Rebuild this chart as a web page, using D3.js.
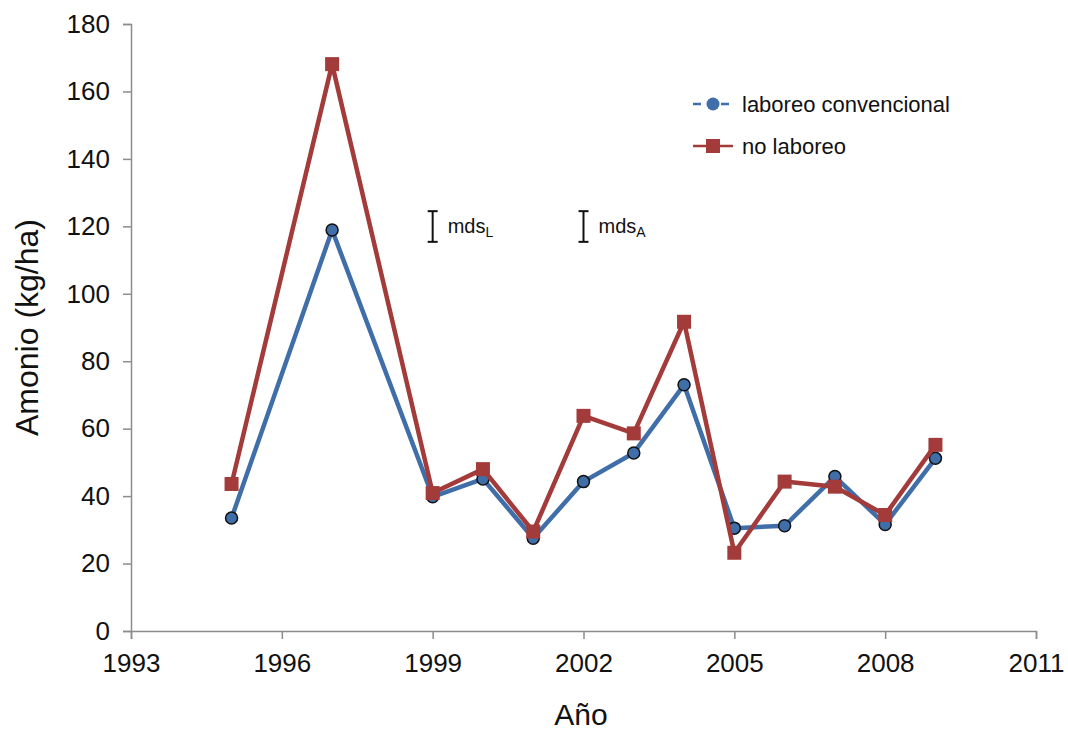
<!DOCTYPE html>
<html>
<head>
<meta charset="utf-8">
<script src="https://cdn.jsdelivr.net/npm/d3@7"></script>
<style>
  body { margin: 0; background: #fff; }
  svg { font-family: "Liberation Sans", Arial, sans-serif; }
  .axis path, .axis line { stroke: #8c8c8c; stroke-width: 1.5px; }
  .axis text { fill: #111; font-size: 26px; }
</style>
</head>
<body>
<svg width="1068" height="731"></svg>
<script>
// data
var years = [1995, 1997, 1999, 2000, 2001, 2002, 2003, 2004, 2005, 2006, 2007, 2008, 2009];
var convencional = [33.5, 118.9, 39.8, 45.1, 27.5, 44.3, 52.8, 73.0, 30.5, 31.2, 45.8, 31.6, 51.2];
var noLaboreo = [43.6, 168.1, 40.9, 48.0, 29.5, 63.8, 58.6, 91.7, 23.2, 44.3, 42.8, 34.4, 55.2];
var xTicks = [1993, 1996, 1999, 2002, 2005, 2008, 2011];
var yTicks = [0, 20, 40, 60, 80, 100, 120, 140, 160, 180];
// mds bars: [year, low, high, subscript]
var mdsBars = [[1999, 115.4, 124.5, "L"], [2002, 115.4, 124.5, "A"]];

var blue = "#3f6ea9", red = "#a33b3a";

var margin = {top: 24, right: 32, bottom: 100, left: 131},
    width = 1068 - margin.left - margin.right,
    height = 731 - margin.top - margin.bottom;

var svg = d3.select("svg");
var g = svg.append("g").attr("transform", "translate(" + margin.left + "," + margin.top + ")");

var x = d3.scaleLinear().domain([1993, 2011]).range([0, width]);
var y = d3.scaleLinear().domain([0, 180]).range([height, 0]);

var xAxis = d3.axisBottom(x).tickValues(xTicks).tickFormat(d3.format("d")).tickSizeOuter(0).tickSize(8).tickPadding(15);
var yAxis = d3.axisLeft(y).tickValues(yTicks).tickSizeOuter(0).tickSize(8).tickPadding(13);

g.append("g").attr("class", "axis axis--x")
    .attr("transform", "translate(0," + height + ")")
    .call(xAxis);
g.append("g").attr("class", "axis axis--y")
    .call(yAxis);

// axis titles
svg.append("text")
    .attr("x", 581).attr("y", 725)
    .attr("text-anchor", "middle").attr("font-size", 30).attr("fill", "#111")
    .text("Año");
svg.append("text")
    .attr("transform", "translate(38," + (margin.top + y(90)) + ") rotate(-90)")
    .attr("text-anchor", "middle").attr("font-size", 32).attr("fill", "#111")
    .text("Amonio (kg/ha)");

var line = d3.line()
    .x(function(d) { return x(d[0]); })
    .y(function(d) { return y(d[1]); });

var blueData = years.map(function(yr, i) { return [yr, convencional[i]]; });
var redData = years.map(function(yr, i) { return [yr, noLaboreo[i]]; });

g.append("path").datum(blueData)
    .attr("fill", "none").attr("stroke", blue).attr("stroke-width", 4.5)
    .attr("stroke-linejoin", "round")
    .attr("d", line);

g.selectAll(".blueDot").data(blueData).enter().append("circle")
    .attr("class", "blueDot")
    .attr("cx", function(d) { return x(d[0]); })
    .attr("cy", function(d) { return y(d[1]); })
    .attr("r", 6)
    .attr("fill", blue).attr("stroke", "#111").attr("stroke-width", 1.5);

g.append("path").datum(redData)
    .attr("fill", "none").attr("stroke", red).attr("stroke-width", 4.5)
    .attr("stroke-linejoin", "round")
    .attr("d", line);

g.selectAll(".redSq").data(redData).enter().append("rect")
    .attr("class", "redSq")
    .attr("x", function(d) { return x(d[0]) - 7; })
    .attr("y", function(d) { return y(d[1]) - 7; })
    .attr("width", 14).attr("height", 14)
    .attr("fill", red);

// mds bars
mdsBars.forEach(function(m) {
    var cx = x(m[0]), y1 = y(m[2]), y2 = y(m[1]);
    var b = g.append("g").attr("stroke", "#111").attr("stroke-width", 2);
    b.append("line").attr("x1", cx).attr("x2", cx).attr("y1", y1).attr("y2", y2);
    b.append("line").attr("x1", cx - 5).attr("x2", cx + 5).attr("y1", y1).attr("y2", y1);
    b.append("line").attr("x1", cx - 5).attr("x2", cx + 5).attr("y1", y2).attr("y2", y2);
    var t = g.append("text")
        .attr("x", cx + 15).attr("y", (y1 + y2) / 2 + 6)
        .attr("font-size", 20).attr("fill", "#111");
    t.append("tspan").text("mds");
    t.append("tspan").attr("dy", 4).attr("font-size", 14).text(m[3]);
});

// legend
var legend = svg.append("g").attr("transform", "translate(693,0)");
legend.append("line").attr("x1", 0).attr("x2", 40).attr("y1", 104).attr("y2", 104)
    .attr("stroke", blue).attr("stroke-width", 2.5).attr("stroke-dasharray", "8,6");
legend.append("circle").attr("cx", 20).attr("cy", 104).attr("r", 6.5)
    .attr("fill", blue);
legend.append("text").attr("x", 49).attr("y", 112).attr("font-size", 22).attr("fill", "#111")
    .text("laboreo convencional");
legend.append("line").attr("x1", 0).attr("x2", 40).attr("y1", 146).attr("y2", 146)
    .attr("stroke", red).attr("stroke-width", 2.5);
legend.append("rect").attr("x", 13).attr("y", 139).attr("width", 14).attr("height", 14)
    .attr("fill", red);
legend.append("text").attr("x", 49).attr("y", 154).attr("font-size", 22).attr("fill", "#111")
    .text("no laboreo");
</script>
</body>
</html>
